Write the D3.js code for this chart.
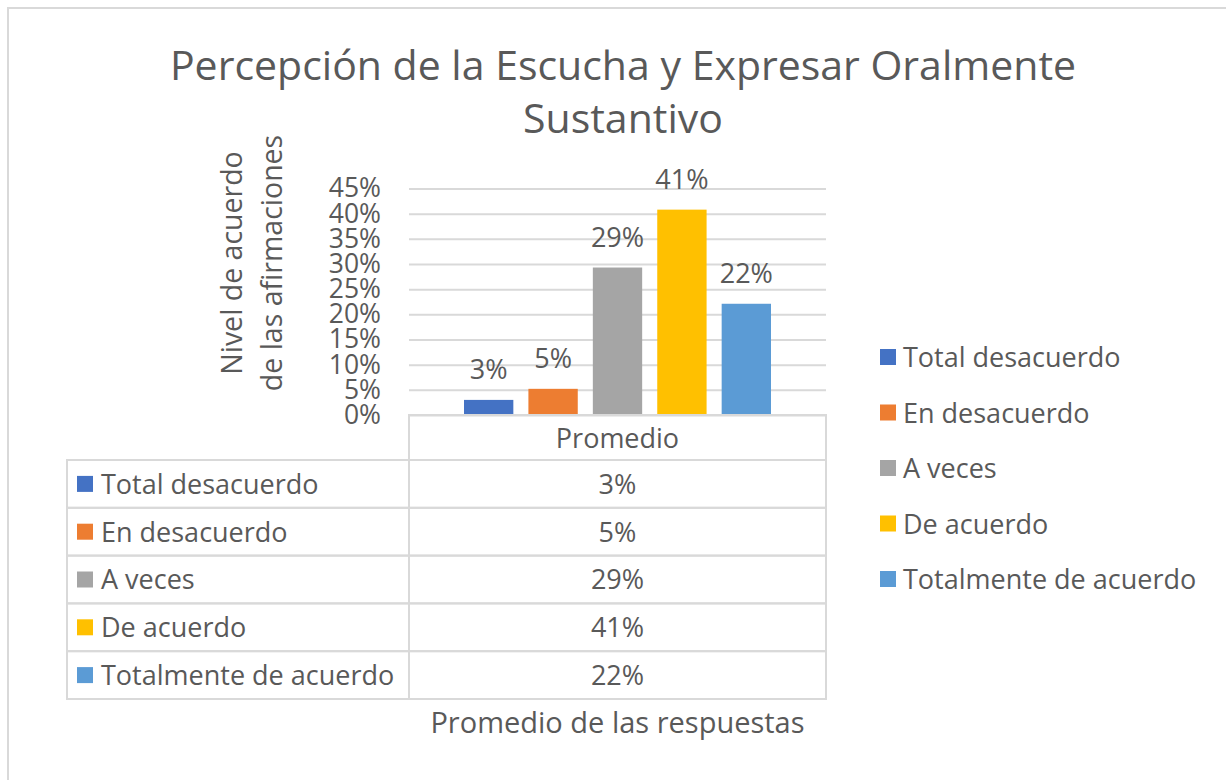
<!DOCTYPE html>
<html>
<head>
<meta charset="utf-8">
<script src="https://cdn.jsdelivr.net/npm/d3@7"></script>
<style>
  body { margin: 0; background: #fff; }
  svg text { font-family: "Open Sans", "Noto Sans", sans-serif; fill: #595959; }
</style>
</head>
<body>
<script>
// data
var categories = ["Promedio"];
var seriesNames = ["Total desacuerdo", "En desacuerdo", "A veces", "De acuerdo", "Totalmente de acuerdo"];
var seriesValues = [0.03, 0.052, 0.293, 0.408, 0.221];
var seriesColors = ["#4472C4", "#ED7D31", "#A5A5A5", "#FFC000", "#5B9BD5"];
var yTicks = [0, 0.05, 0.10, 0.15, 0.20, 0.25, 0.30, 0.35, 0.40, 0.45];
var titleLines = ["Percepción de la Escucha y Expresar Oralmente", "Sustantivo"];
var yTitleLines = ["Nivel de acuerdo", "de las afirmaciones"];
var xTitle = "Promedio de las respuestas";

var w = 1226, h = 780;
var plot = {left: 409, right: 826, top: 188.5, bottom: 415};
var table = {left: 67, mid: 409, right: 826, top: 415, headBottom: 460, rowH: 47.8};
var fs = 27;

var pct = d3.format(".0%");

var svg = d3.select("body").append("svg")
  .attr("width", w)
  .attr("height", h);

// chart frame (cropped at right and bottom)
svg.append("rect")
  .attr("x", 8).attr("y", 8)
  .attr("width", w + 20).attr("height", h + 20)
  .attr("fill", "none")
  .attr("stroke", "#d9d9d9")
  .attr("stroke-width", 2);

// title
svg.append("text")
  .attr("text-anchor", "middle")
  .attr("font-size", 41)
  .selectAll("tspan")
  .data(titleLines)
  .enter()
  .append("tspan")
  .attr("x", 623)
  .attr("y", function(d, i) { return 80 + i * 53; })
  .text(function(d) { return d; });

// scales
var yScale = d3.scaleLinear()
  .domain([0, 0.45])
  .range([plot.bottom, plot.top]);

var x0 = d3.scaleBand()
  .domain(categories)
  .range([plot.left, plot.right]);

var x1 = d3.scaleBand()
  .domain(seriesNames)
  .range([55, x0.bandwidth() - 55])
  .paddingInner(0.234);

// y axis with gridlines
var yAxis = svg.append("g")
  .attr("class", "y axis")
  .attr("transform", "translate(" + plot.left + ",0)")
  .call(d3.axisLeft(yScale)
    .tickValues(yTicks)
    .tickFormat(pct)
    .tickSize(-(plot.right - plot.left))
    .tickPadding(28));

yAxis.select(".domain").remove();
yAxis.selectAll("line")
  .attr("stroke", "#d9d9d9")
  .attr("stroke-width", 2);
yAxis.selectAll("text")
  .attr("font-size", 26.5)
  .attr("fill", "#595959")
  .attr("font-family", "'Open Sans', sans-serif");

// bars
var rows = seriesNames.map(function(name, i) {
  return {name: name, value: seriesValues[i], color: seriesColors[i], cat: categories[0]};
});

svg.selectAll("rect.bar")
  .data(rows)
  .enter()
  .append("rect")
  .attr("class", "bar")
  .attr("x", function(d) { return x0(d.cat) + x1(d.name); })
  .attr("y", function(d) { return yScale(d.value); })
  .attr("width", x1.bandwidth())
  .attr("height", function(d) { return yScale(0) - yScale(d.value); })
  .attr("fill", function(d) { return d.color; });

// data labels
svg.selectAll("text.label")
  .data(rows)
  .enter()
  .append("text")
  .attr("class", "label")
  .attr("text-anchor", "middle")
  .attr("font-size", fs)
  .attr("x", function(d) { return x0(d.cat) + x1(d.name) + x1.bandwidth() / 2; })
  .attr("y", function(d) { return yScale(d.value) - 21; })
  .text(function(d) { return pct(d.value); });

// y axis title
svg.append("text")
  .attr("transform", "translate(242,263) rotate(-90)")
  .attr("text-anchor", "middle")
  .attr("font-size", 28.5)
  .selectAll("tspan")
  .data(yTitleLines)
  .enter()
  .append("tspan")
  .attr("x", 0)
  .attr("y", function(d, i) { return i * 40; })
  .text(function(d) { return d; });

// data table
var tbl = svg.append("g").attr("class", "table");

// header cell
tbl.append("rect")
  .attr("x", table.mid).attr("y", table.top)
  .attr("width", table.right - table.mid)
  .attr("height", table.headBottom - table.top)
  .attr("fill", "none").attr("stroke", "#d9d9d9").attr("stroke-width", 2);

tbl.append("text")
  .attr("text-anchor", "middle")
  .attr("font-size", fs)
  .attr("x", x0(categories[0]) + x0.bandwidth() / 2)
  .attr("y", (table.top + table.headBottom) / 2 + 10)
  .text(categories[0]);

var tRow = tbl.selectAll("g.row")
  .data(rows)
  .enter()
  .append("g")
  .attr("class", "row")
  .attr("transform", function(d, i) { return "translate(0," + (table.headBottom + i * table.rowH) + ")"; });

tRow.append("rect")
  .attr("x", table.left).attr("y", 0)
  .attr("width", table.mid - table.left).attr("height", table.rowH)
  .attr("fill", "none").attr("stroke", "#d9d9d9").attr("stroke-width", 2);

tRow.append("rect")
  .attr("x", table.mid).attr("y", 0)
  .attr("width", table.right - table.mid).attr("height", table.rowH)
  .attr("fill", "none").attr("stroke", "#d9d9d9").attr("stroke-width", 2);

tRow.append("rect")
  .attr("x", 77).attr("y", table.rowH / 2 - 8)
  .attr("width", 16).attr("height", 16)
  .attr("fill", function(d) { return d.color; });

tRow.append("text")
  .attr("x", 101)
  .attr("y", table.rowH / 2 + 10)
  .attr("font-size", fs)
  .text(function(d) { return d.name; });

tRow.append("text")
  .attr("text-anchor", "middle")
  .attr("x", x0(categories[0]) + x0.bandwidth() / 2)
  .attr("y", table.rowH / 2 + 10)
  .attr("font-size", fs)
  .text(function(d) { return pct(d.value); });

// x axis title
svg.append("text")
  .attr("text-anchor", "middle")
  .attr("font-size", 29)
  .attr("x", 617.5)
  .attr("y", 733)
  .text(xTitle);

// legend
var legend = svg.selectAll("g.legend")
  .data(rows)
  .enter()
  .append("g")
  .attr("class", "legend")
  .attr("transform", function(d, i) { return "translate(880," + (357 + i * 55.5) + ")"; });

legend.append("rect")
  .attr("x", 0).attr("y", -8)
  .attr("width", 16).attr("height", 16)
  .attr("fill", function(d) { return d.color; });

legend.append("text")
  .attr("x", 23)
  .attr("y", 10)
  .attr("font-size", fs)
  .text(function(d) { return d.name; });
</script>
</body>
</html>
